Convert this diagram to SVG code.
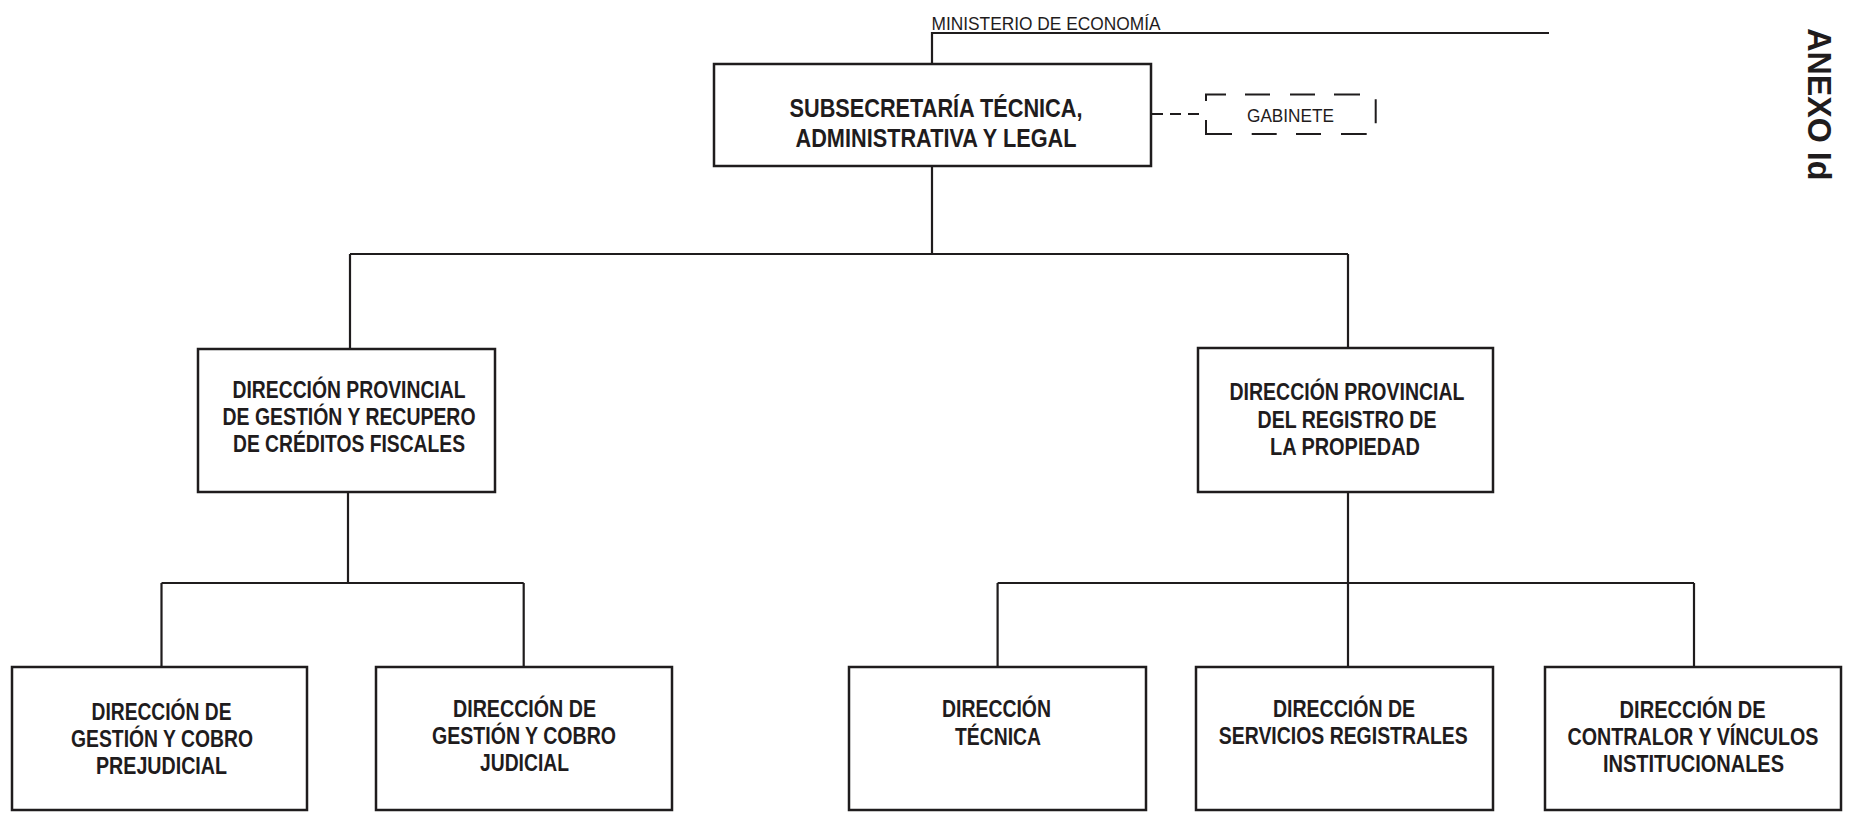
<svg xmlns="http://www.w3.org/2000/svg" width="1849" height="817" viewBox="0 0 1849 817">
<style>
.box{fill:#fff;stroke:#1f1c1d;stroke-width:2.5}
.ln{fill:none;stroke:#1f1c1d;stroke-width:2.2}
.dash{fill:none;stroke:#1f1c1d;stroke-width:2;stroke-dasharray:11 7}
.dbox{fill:none;stroke:#1f1c1d;stroke-width:2}
.t{font-family:"Liberation Sans",Arial,sans-serif;font-weight:bold;font-size:23px;fill:#1f1c1d;text-anchor:middle}
.tm{font-family:"Liberation Sans",Arial,sans-serif;font-weight:bold;font-size:26.5px;fill:#1f1c1d;text-anchor:middle}
.tn{font-family:"Liberation Sans",Arial,sans-serif;font-size:18.5px;fill:#1f1c1d}
.ta{font-family:"Liberation Sans",Arial,sans-serif;font-weight:bold;font-size:34px;fill:#1f1c1d}
</style>
<rect width="1849" height="817" fill="#fff"/>
<g id="connectors">
<path class="ln" d="M932,64 V33 H1549"/>
<path class="ln" d="M932,166 V254 M350,254 H1348 M350,254 V349 M1348,254 V348"/>
<path class="ln" d="M348,492 V583 M161.5,583 H523.7 M161.5,583 V667 M523.7,583 V667"/>
<path class="ln" d="M1348,492 V667 M997.6,583 H1694 M997.6,583 V667 M1694,583 V667"/>
<path class="dash" d="M1152,114 H1206"/>
</g>
<g id="ministerio">
<text class="tn" x="931.5" y="30" textLength="229" lengthAdjust="spacingAndGlyphs">MINISTERIO DE ECONOMÍA</text>
</g>
<g id="anexo">
<text class="ta" transform="translate(1807.5,28.3) rotate(90)" textLength="152" lengthAdjust="spacingAndGlyphs">ANEXO Id</text>
</g>
<g id="subsecretaria">
<rect class="box" x="714" y="64" width="437" height="102"/>
<text class="tm" x="936" y="116.5" textLength="293" lengthAdjust="spacingAndGlyphs">SUBSECRETARÍA TÉCNICA,</text>
<text class="tm" x="936" y="147" textLength="281" lengthAdjust="spacingAndGlyphs">ADMINISTRATIVA Y LEGAL</text>
</g>
<g id="gabinete">
<path class="dbox" d="M1226,94.5 H1206 V101 M1245,94.5 H1270 M1290,94.5 H1315 M1334,94.5 H1360 M1375.7,99.3 V123.3 M1206,120 V134 H1232 M1251.7,134 H1276.7 M1296,134 H1321 M1341,134 H1366.7"/>
<text class="tn" x="1247" y="121.5" textLength="87" lengthAdjust="spacingAndGlyphs">GABINETE</text>
</g>
<g id="dp-gestion">
<rect class="box" x="198" y="349" width="297" height="143"/>
<text class="t" x="349" y="398" textLength="233" lengthAdjust="spacingAndGlyphs">DIRECCIÓN PROVINCIAL</text>
<text class="t" x="349" y="425" textLength="253" lengthAdjust="spacingAndGlyphs">DE GESTIÓN Y RECUPERO</text>
<text class="t" x="349" y="452" textLength="232" lengthAdjust="spacingAndGlyphs">DE CRÉDITOS FISCALES</text>
</g>
<g id="dp-registro">
<rect class="box" x="1198" y="348" width="295" height="144"/>
<text class="t" x="1347" y="400" textLength="235" lengthAdjust="spacingAndGlyphs">DIRECCIÓN PROVINCIAL</text>
<text class="t" x="1347" y="427.5" textLength="179" lengthAdjust="spacingAndGlyphs">DEL REGISTRO DE</text>
<text class="t" x="1345" y="455" textLength="150" lengthAdjust="spacingAndGlyphs">LA PROPIEDAD</text>
</g>
<g id="d-prejudicial">
<rect class="box" x="12" y="667" width="295" height="143"/>
<text class="t" x="161.5" y="720" textLength="140" lengthAdjust="spacingAndGlyphs">DIRECCIÓN DE</text>
<text class="t" x="162" y="747" textLength="182" lengthAdjust="spacingAndGlyphs">GESTIÓN Y COBRO</text>
<text class="t" x="161.5" y="774" textLength="131" lengthAdjust="spacingAndGlyphs">PREJUDICIAL</text>
</g>
<g id="d-judicial">
<rect class="box" x="376" y="667" width="296" height="143"/>
<text class="t" x="524.5" y="717" textLength="143" lengthAdjust="spacingAndGlyphs">DIRECCIÓN DE</text>
<text class="t" x="524" y="744" textLength="184" lengthAdjust="spacingAndGlyphs">GESTIÓN Y COBRO</text>
<text class="t" x="524.5" y="771" textLength="89" lengthAdjust="spacingAndGlyphs">JUDICIAL</text>
</g>
<g id="d-tecnica">
<rect class="box" x="849" y="667" width="297" height="143"/>
<text class="t" x="996.5" y="716.5" textLength="109" lengthAdjust="spacingAndGlyphs">DIRECCIÓN</text>
<text class="t" x="998" y="744.5" textLength="86" lengthAdjust="spacingAndGlyphs">TÉCNICA</text>
</g>
<g id="d-servicios">
<rect class="box" x="1196" y="667" width="297" height="143"/>
<text class="t" x="1344" y="716.5" textLength="142" lengthAdjust="spacingAndGlyphs">DIRECCIÓN DE</text>
<text class="t" x="1343.3" y="743.5" textLength="249" lengthAdjust="spacingAndGlyphs">SERVICIOS REGISTRALES</text>
</g>
<g id="d-contralor">
<rect class="box" x="1545" y="667" width="296" height="143"/>
<text class="t" x="1692.6" y="718" textLength="146" lengthAdjust="spacingAndGlyphs">DIRECCIÓN DE</text>
<text class="t" x="1693" y="745" textLength="251" lengthAdjust="spacingAndGlyphs">CONTRALOR Y VÍNCULOS</text>
<text class="t" x="1693.5" y="772" textLength="181" lengthAdjust="spacingAndGlyphs">INSTITUCIONALES</text>
</g>
</svg>
